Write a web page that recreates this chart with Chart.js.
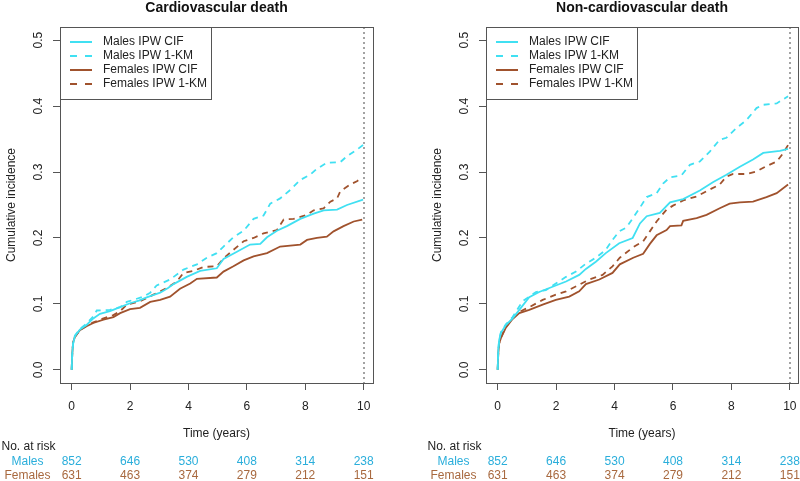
<!DOCTYPE html>
<html>
<head>
<meta charset="utf-8">
<script src="https://cdn.jsdelivr.net/npm/chart.js@4.4.1/dist/chart.umd.min.js"></script>
<style>
  body { margin: 0; background: #fff; width: 800px; height: 481px; position: relative; overflow: hidden; }
  canvas { position: absolute; top: 0; }
  #cv { left: 0; }
  #ncv { left: 426px; }
</style>
</head>
<body>
<canvas id="cv" width="400" height="481"></canvas>
<canvas id="ncv" width="374" height="481"></canvas>
<script>
const timeTicks = [0, 2, 4, 6, 8, 10];
const incTicks = [0, 0.1, 0.2, 0.3, 0.4, 0.5];
const seriesNames = ['Males IPW CIF', 'Males IPW 1-KM', 'Females IPW CIF', 'Females IPW 1-KM'];
const riskMales = [852, 646, 530, 408, 314, 238];
const riskFemales = [631, 463, 374, 279, 212, 151];

// cardiovascular death
const cvMaleCifT = [0, 0.02, 0.05, 0.11, 0.28, 0.51, 0.74, 0.97, 1.31, 1.66, 2.0, 2.3, 2.57, 3.03, 3.3, 3.49, 3.94, 4.4, 4.97, 5.2, 5.66, 6.11, 6.46, 6.69, 7.03, 7.37, 7.83, 8.29, 8.63, 9.09, 9.43, 9.98];
const cvMaleCifV = [0, 0.025, 0.04, 0.051, 0.061, 0.068, 0.078, 0.085, 0.089, 0.095, 0.101, 0.105, 0.110, 0.117, 0.124, 0.130, 0.141, 0.150, 0.154, 0.168, 0.179, 0.190, 0.191, 0.201, 0.211, 0.218, 0.229, 0.237, 0.242, 0.243, 0.250, 0.258];
const cvMaleKmT = [0, 0.02, 0.05, 0.11, 0.28, 0.51, 0.74, 0.86, 1.31, 1.66, 1.89, 2.46, 2.69, 2.91, 3.37, 3.83, 4.29, 4.63, 4.97, 5.2, 5.54, 5.89, 6.23, 6.57, 6.8, 7.14, 7.49, 7.83, 8.17, 8.4, 8.74, 9.2, 9.43, 9.77, 9.98];
const cvMaleKmV = [0, 0.025, 0.04, 0.052, 0.062, 0.070, 0.081, 0.090, 0.091, 0.095, 0.103, 0.111, 0.117, 0.128, 0.137, 0.152, 0.160, 0.170, 0.177, 0.187, 0.201, 0.211, 0.229, 0.234, 0.252, 0.260, 0.273, 0.288, 0.296, 0.305, 0.314, 0.315, 0.324, 0.334, 0.341];
const cvFemCifT = [0, 0.02, 0.05, 0.11, 0.28, 0.51, 0.74, 1.09, 1.43, 1.66, 2.0, 2.34, 2.69, 3.03, 3.37, 3.71, 4.06, 4.29, 4.97, 5.2, 5.54, 5.89, 6.23, 6.69, 7.14, 7.83, 8.06, 8.4, 8.74, 8.97, 9.31, 9.66, 9.95];
const cvFemCifV = [0, 0.025, 0.042, 0.050, 0.060, 0.066, 0.071, 0.076, 0.080, 0.086, 0.092, 0.094, 0.103, 0.106, 0.111, 0.123, 0.131, 0.138, 0.140, 0.149, 0.157, 0.166, 0.172, 0.177, 0.187, 0.190, 0.197, 0.200, 0.202, 0.210, 0.218, 0.225, 0.228];
const cvFemKmT = [0, 0.02, 0.05, 0.11, 0.28, 0.51, 0.74, 1.09, 1.43, 1.66, 1.89, 2.34, 2.8, 3.26, 3.6, 3.83, 4.17, 4.51, 4.97, 5.2, 5.54, 5.89, 6.23, 6.57, 7.03, 7.26, 7.6, 8.06, 8.29, 8.63, 8.86, 9.09, 9.2, 9.54, 9.77, 9.95];
const cvFemKmV = [0, 0.025, 0.042, 0.050, 0.060, 0.067, 0.072, 0.078, 0.083, 0.089, 0.099, 0.104, 0.114, 0.124, 0.134, 0.147, 0.150, 0.156, 0.157, 0.169, 0.182, 0.195, 0.200, 0.207, 0.212, 0.228, 0.229, 0.235, 0.242, 0.245, 0.255, 0.260, 0.271, 0.281, 0.286, 0.292];

// non-cardiovascular death
const ncvMaleCifT = [0, 0.02, 0.05, 0.11, 0.28, 0.51, 0.74, 1.08, 1.42, 1.88, 2.34, 2.79, 3.02, 3.36, 3.7, 4.16, 4.62, 4.87, 5.1, 5.55, 5.9, 6.35, 6.92, 7.38, 7.83, 8.29, 8.74, 9.09, 9.66, 9.94];
const ncvMaleCifV = [0, 0.03, 0.045, 0.056, 0.068, 0.078, 0.091, 0.110, 0.118, 0.126, 0.134, 0.144, 0.153, 0.164, 0.177, 0.192, 0.200, 0.222, 0.233, 0.238, 0.254, 0.259, 0.272, 0.285, 0.296, 0.308, 0.319, 0.329, 0.332, 0.335];
const ncvMaleKmT = [0, 0.02, 0.05, 0.11, 0.28, 0.51, 0.85, 1.31, 1.65, 1.99, 2.34, 2.68, 3.02, 3.36, 3.7, 3.93, 4.16, 4.41, 4.87, 5.1, 5.44, 5.67, 5.9, 6.29, 6.58, 6.92, 7.26, 7.6, 7.83, 8.18, 8.52, 8.86, 9.09, 9.55, 9.94];
const ncvMaleKmV = [0, 0.03, 0.045, 0.057, 0.069, 0.080, 0.104, 0.118, 0.121, 0.131, 0.141, 0.149, 0.161, 0.170, 0.182, 0.197, 0.210, 0.216, 0.246, 0.262, 0.268, 0.283, 0.292, 0.295, 0.311, 0.316, 0.331, 0.349, 0.352, 0.367, 0.379, 0.397, 0.402, 0.404, 0.415];
const ncvFemCifT = [0, 0.02, 0.05, 0.11, 0.28, 0.51, 0.74, 1.08, 1.54, 1.99, 2.45, 2.79, 3.02, 3.48, 3.93, 4.18, 4.64, 4.98, 5.21, 5.44, 5.78, 5.9, 6.29, 6.35, 6.81, 7.15, 7.6, 7.94, 8.29, 8.74, 9.2, 9.55, 9.94];
const ncvFemCifV = [0, 0.025, 0.04, 0.048, 0.064, 0.077, 0.086, 0.091, 0.099, 0.106, 0.111, 0.119, 0.130, 0.137, 0.147, 0.160, 0.170, 0.176, 0.191, 0.204, 0.212, 0.218, 0.219, 0.226, 0.230, 0.235, 0.245, 0.252, 0.254, 0.255, 0.262, 0.268, 0.281];
const ncvFemKmT = [0, 0.02, 0.05, 0.11, 0.28, 0.51, 0.74, 1.08, 1.54, 1.99, 2.34, 2.79, 3.13, 3.59, 3.93, 4.18, 4.64, 4.98, 5.21, 5.44, 5.78, 6.0, 6.35, 6.81, 7.15, 7.6, 7.83, 8.06, 8.52, 8.86, 9.2, 9.55, 9.78, 9.94];
const ncvFemKmV = [0, 0.025, 0.04, 0.049, 0.065, 0.078, 0.088, 0.095, 0.106, 0.114, 0.119, 0.129, 0.137, 0.144, 0.157, 0.170, 0.186, 0.195, 0.210, 0.225, 0.243, 0.249, 0.257, 0.263, 0.271, 0.281, 0.293, 0.297, 0.297, 0.301, 0.309, 0.316, 0.329, 0.341];

const FONT = '"Liberation Sans", Arial, sans-serif';
const CYAN = '#40e0f2';
const BROWN = '#a0522d';
const MALE_TXT = '#2aaedb';
const FEM_TXT = '#a8693f';
const INK = '#222';

const pts = (T, V) => T.map((t, i) => ({ x: t, y: V[i] }));

function lineSet(label, T, V, color, dashed) {
  return {
    label: label,
    data: pts(T, V),
    borderColor: color,
    borderWidth: 1.8,
    borderDash: dashed ? [6, 5] : [],
    tension: 0,
    showLine: true,
    pointRadius: 0,
    fill: false
  };
}

// no automatic room for edge tick labels, the box is placed by hand
function fixPad(s) {
  s.paddingLeft = 0;
  s.paddingRight = 0;
  s.paddingTop = 0;
  s.paddingBottom = 0;
}

const panelDecor = {
  id: 'panelDecor',
  beforeDatasetsDraw(chart) {
    const { ctx, chartArea: a, scales: { x } } = chart;
    const px = Math.round(x.getPixelForValue(10));
    ctx.save();
    ctx.strokeStyle = '#a3a3a3';
    ctx.lineWidth = 2;
    ctx.setLineDash([2, 3]);
    ctx.beginPath();
    ctx.moveTo(px, a.top);
    ctx.lineTo(px, a.bottom);
    ctx.stroke();
    ctx.restore();
  },
  afterDraw(chart, args, opts) {
    const { ctx, chartArea: a, scales: { x, y } } = chart;
    ctx.save();

    // box
    ctx.strokeStyle = '#555';
    ctx.lineWidth = 1;
    ctx.strokeRect(Math.round(a.left) + 0.5, Math.round(a.top) + 0.5,
      Math.round(a.right - a.left), Math.round(a.bottom - a.top));

    // title
    const cx = (a.left + a.right) / 2;
    ctx.fillStyle = '#111';
    ctx.font = 'bold 14px ' + FONT;
    ctx.textAlign = 'center';
    ctx.textBaseline = 'middle';
    ctx.fillText(opts.title, cx, 8.5);

    // y tick labels, rotated like base R
    ctx.font = '12px ' + FONT;
    ctx.fillStyle = INK;
    y.ticks.forEach(t => {
      ctx.save();
      ctx.translate(a.left - 21, y.getPixelForValue(t.value));
      ctx.rotate(-Math.PI / 2);
      ctx.fillText(t.value.toFixed(1), 0, 0);
      ctx.restore();
    });

    // axis titles
    ctx.save();
    ctx.translate(a.left - 48, (a.top + a.bottom) / 2);
    ctx.rotate(-Math.PI / 2);
    ctx.fillText('Cumulative incidence', 0, 0);
    ctx.restore();
    ctx.fillText('Time (years)', cx, 433.5);

    // legend
    const lw = 151, lh = 72;
    ctx.fillStyle = '#fff';
    ctx.fillRect(a.left + 1, a.top + 1, lw - 1, lh - 1);
    ctx.strokeStyle = '#555';
    ctx.strokeRect(Math.round(a.left) + 0.5, Math.round(a.top) + 0.5, lw, lh);
    chart.data.datasets.forEach((ds, i) => {
      const ly = a.top + 15 + i * 14;
      ctx.strokeStyle = ds.borderColor;
      ctx.lineWidth = 2;
      ctx.setLineDash(ds.borderDash.length ? [7, 8] : []);
      ctx.beginPath();
      ctx.moveTo(a.left + 10, ly);
      ctx.lineTo(a.left + 32, ly);
      ctx.stroke();
      ctx.fillStyle = INK;
      ctx.textAlign = 'left';
      ctx.fillText(ds.label, a.left + 43, ly);
    });
    ctx.setLineDash([]);

    // numbers at risk
    ctx.textAlign = 'left';
    ctx.fillStyle = INK;
    ctx.fillText('No. at risk', a.left - 58.5, 447);
    ctx.textAlign = 'center';
    ctx.fillStyle = MALE_TXT;
    ctx.fillText('Males', a.left - 32.5, 461.5);
    riskMales.forEach((n, i) => ctx.fillText(String(n), x.getPixelForValue(timeTicks[i]), 461.5));
    ctx.fillStyle = FEM_TXT;
    ctx.fillText('Females', a.left - 32.5, 476);
    riskFemales.forEach((n, i) => ctx.fillText(String(n), x.getPixelForValue(timeTicks[i]), 476));

    ctx.restore();
  }
};

function makePanel(id, title, rightPad, xMax, sets) {
  return new Chart(document.getElementById(id), {
    type: 'scatter',
    data: {
      datasets: [
        lineSet(seriesNames[0], sets[0], sets[1], CYAN, false),
        lineSet(seriesNames[1], sets[2], sets[3], CYAN, true),
        lineSet(seriesNames[2], sets[4], sets[5], BROWN, false),
        lineSet(seriesNames[3], sets[6], sets[7], BROWN, true)
      ]
    },
    options: {
      responsive: false,
      animation: false,
      events: [],
      layout: { padding: { left: 0, right: rightPad, top: 27, bottom: 0 } },
      plugins: {
        legend: { display: false },
        tooltip: { enabled: false },
        title: { display: false },
        panelDecor: { title: title }
      },
      scales: {
        x: {
          type: 'linear',
          min: -0.4,
          max: xMax,
          afterBuildTicks: s => { s.ticks = timeTicks.map(v => ({ value: v })); },
          afterFit: s => { s.height = 98; fixPad(s); },
          border: { display: false },
          grid: { drawOnChartArea: false, drawTicks: true, tickLength: 7, color: '#555' },
          ticks: { color: INK, font: { family: FONT, size: 12 }, padding: 9, maxRotation: 0 }
        },
        y: {
          type: 'linear',
          min: -0.02,
          max: 0.52,
          afterBuildTicks: s => { s.ticks = incTicks.map(v => ({ value: v })); },
          afterFit: s => { s.width = 60; fixPad(s); },
          border: { display: false },
          grid: { drawOnChartArea: false, drawTicks: true, tickLength: 7, color: '#555' },
          ticks: { display: false }
        }
      }
    },
    plugins: [panelDecor]
  });
}

makePanel('cv', 'Cardiovascular death', 27, 10.32,
  [cvMaleCifT, cvMaleCifV, cvMaleKmT, cvMaleKmV, cvFemCifT, cvFemCifV, cvFemKmT, cvFemKmV]);
makePanel('ncv', 'Non-cardiovascular death', 2, 10.28,
  [ncvMaleCifT, ncvMaleCifV, ncvMaleKmT, ncvMaleKmV, ncvFemCifT, ncvFemCifV, ncvFemKmT, ncvFemKmV]);
</script>
</body>
</html>
